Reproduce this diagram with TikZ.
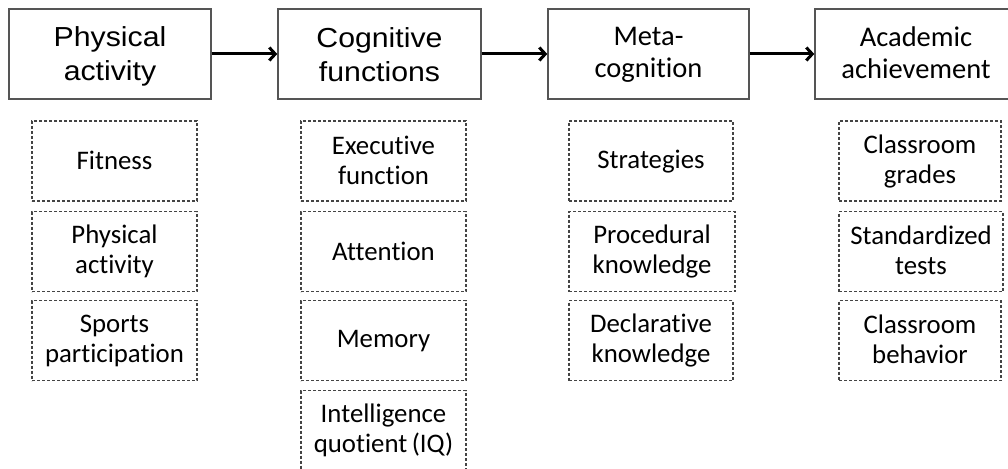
\documentclass[tikz,border=0pt]{standalone}
\usepackage{fontspec}
\usetikzlibrary{arrows.meta}
\newfontfamily\arialf[FakeStretch=1.1]{Liberation Sans}
\newfontfamily\calf[Ligatures={NoCommon}]{Carlito}
\newcommand\ts[2]{\rule[-#2]{0pt}{\dimexpr#1+#2\relax}}
\definecolor{boxline}{HTML}{555555}
\definecolor{dashline}{HTML}{444444}
\begin{document}
\begin{tikzpicture}[x=1pt,y=-1pt,
  mainbox/.style={draw=boxline,line width=1.4pt,minimum height=90pt,inner sep=0pt,align=center,text=black},
  armain/.style={mainbox,font=\arialf\fontsize{27.5}{34}\selectfont},
  camain/.style={mainbox,font=\calf\fontsize{28.5}{32}\selectfont},
  subbox/.style={draw=dashline,line width=1.3pt,dash pattern=on 3pt off 2pt,minimum height=80pt,inner sep=0pt,align=center,font=\calf\fontsize{26.8}{30}\selectfont,text=black},
  flow/.style={line width=3pt,-{Straight Barb[length=6pt,width=13pt,line width=3pt]}}]
\useasboundingbox (0,0) rectangle (1008,468);
\clip (0,0) rectangle (1008,468);
% main boxes
\node[armain,minimum width=202pt] (pa) at (110,54) {\ts{24pt}{2pt}Physical\\activity\ts{24pt}{2pt}};
\node[armain,minimum width=203pt] (cf) at (379.5,54) {\ts{24pt}{2pt}Cognitive\\functions\ts{24pt}{2pt}};
\node[camain,minimum width=201pt] (mc) at (648.5,54) {\ts{20pt}{2pt}Meta-\\cognition\ts{20pt}{2pt}};
\node[camain,minimum width=202pt] (aa) at (916,54) {\ts{20pt}{2pt}Academic\\achievement\ts{20pt}{2pt}};
% arrows
\draw[flow] (pa.east) -- (cf.west);
\draw[flow] (cf.east) -- (mc.west);
\draw[flow] (mc.east) -- (aa.west);
% column 1
\node[subbox,minimum width=165pt] (fit) at (114.5,161) {\ts{19pt}{2pt}Fitness};
\node[subbox,minimum width=165pt] (phy) at (114.5,251.5) {\ts{17pt}{2pt}Physical\\activity\ts{17pt}{2pt}};
\node[subbox,minimum width=165pt] (spo) at (114.5,340.5) {\ts{17pt}{2pt}Sports\\participation\ts{17pt}{2pt}};
% column 2
\node[subbox,minimum width=165pt] (exe) at (383.5,161) {\ts{17pt}{2pt}Executive\\function\ts{17pt}{2pt}};
\node[subbox,minimum width=165pt] (att) at (383.5,251.5) {\ts{19pt}{2pt}Attention};
\node[subbox,minimum width=165pt] (mem) at (383.5,340.5) {\ts{19pt}{2pt}Memory};
\node[subbox,minimum width=165pt] (iq) at (383.5,430.5) {\ts{17pt}{2pt}Intelligence\\quotient\,(IQ)\ts{17pt}{2pt}};
% column 3
\node[subbox,minimum width=164pt] (str) at (651,161) {\ts{19pt}{2pt}Strategies};
\node[subbox,minimum width=166pt] (pro) at (652,251.5) {\ts{17pt}{2pt}Procedural\\knowledge\ts{17pt}{2pt}};
\node[subbox,minimum width=164pt] (dec) at (651,340.5) {\ts{17pt}{2pt}Declarative\\knowledge\ts{17pt}{2pt}};
% column 4
\node[subbox,minimum width=162pt] (cgr) at (920,161) {\ts{17pt}{2pt}Classroom\\grades\ts{17pt}{2pt}};
\node[subbox,minimum width=164pt] (std) at (921,251.5) {\ts{17pt}{2pt}Standardized\\tests\ts{17pt}{2pt}};
\node[subbox,minimum width=162pt] (cbe) at (920,340.5) {\ts{17pt}{2pt}Classroom\\behavior\ts{17pt}{2pt}};
\end{tikzpicture}
\end{document}
